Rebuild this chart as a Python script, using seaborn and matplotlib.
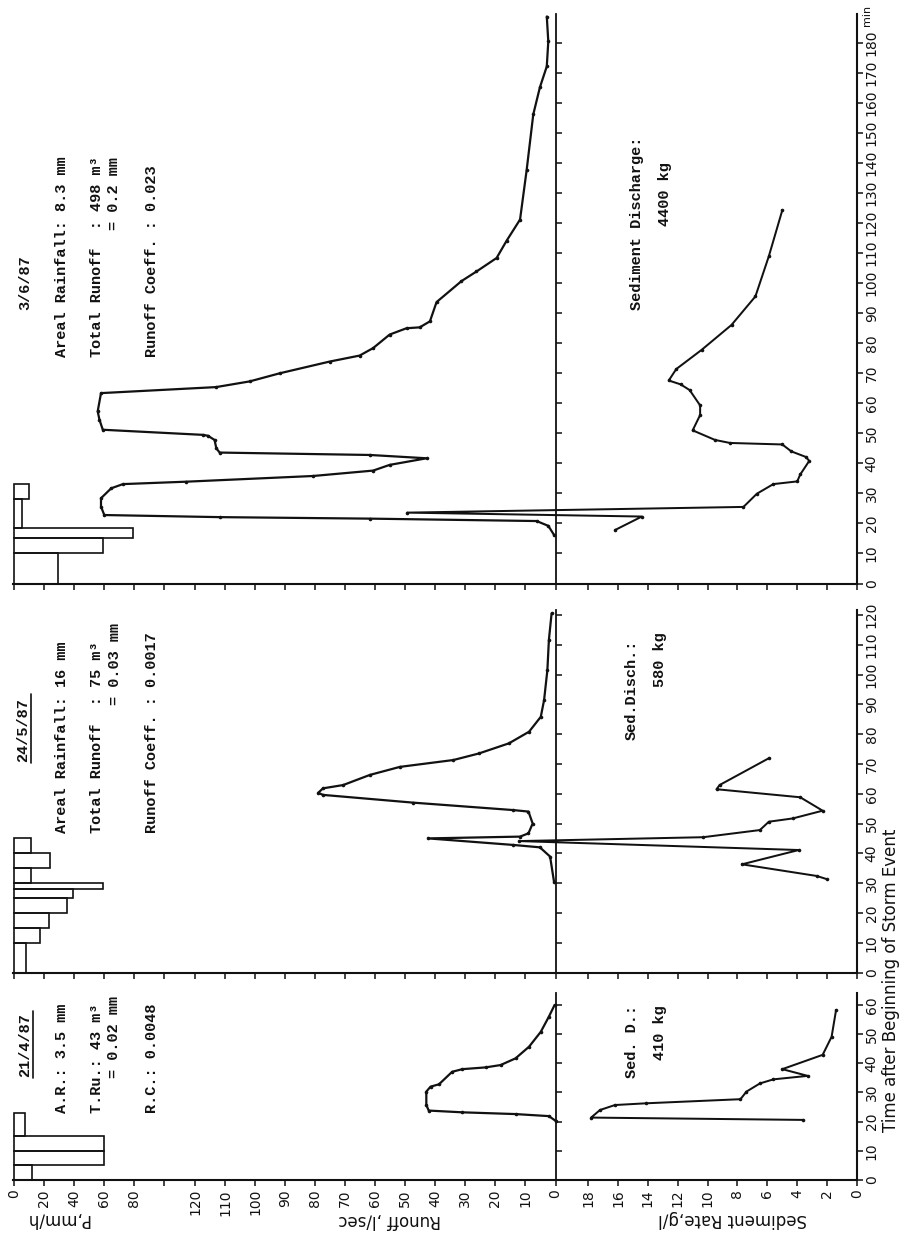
import matplotlib
matplotlib.use("Agg")
import matplotlib.pyplot as plt
from matplotlib.lines import Line2D
import seaborn as sns

# ---------------- data ----------------
# Event 1: 21/4/87
rain_edges_1 = [0, 5, 10, 15, 23]
rain_vals_1 = [12, 60, 60, 7]
runoff_t_1 = [20.3, 21.9, 22.6, 23.2, 23.8, 25.7, 30.3, 32.0, 32.8, 37.1, 38.0, 38.6,
              39.4, 41.7, 45.7, 50.8, 56.0, 60.0]
runoff_q_1 = [0.0, 2.2, 13.3, 31.0, 42.2, 43.0, 43.0, 41.6, 38.8, 34.4, 31.0, 23.3,
              18.3, 13.3, 8.8, 4.9, 2.2, 0.3]
sed_t_1 = [20.6, 21.4, 24.0, 25.7, 26.3, 27.7, 30.3, 33.1, 34.5, 35.7, 38.0, 42.9, 49.1, 58.3]
sed_c_1 = [3.6, 17.8, 17.2, 16.2, 14.1, 7.8, 7.4, 6.5, 5.6, 3.3, 5.0, 2.3, 1.7, 1.4]

# Event 2: 24/5/87
rain_edges_2 = [0, 10, 15, 20, 25, 28, 30, 35, 40, 45]
rain_vals_2 = [8, 17.5, 23, 35.5, 39.5, 59, 11, 24, 11]
runoff_t_2 = [30.5, 38.9, 42.0, 42.8, 45.0, 45.6, 46.7, 50.0, 54.0, 54.5, 57.0, 59.6,
              60.3, 61.8, 62.9, 66.3, 69.0, 71.3, 73.5, 76.9, 80.8, 85.8, 91.4, 101.5,
              111.6, 120.5]
runoff_q_2 = [0.5, 1.8, 5.2, 14.0, 42.4, 11.8, 9.0, 7.6, 9.0, 14.0, 47.4, 77.4,
              79.0, 77.4, 70.7, 61.8, 51.8, 34.0, 25.5, 15.5, 8.8, 4.9, 3.8, 2.7,
              2.2, 1.3]
sed_t_2 = [31.3, 32.4, 36.3, 41.1, 44.1, 45.4, 47.8, 50.6, 51.7, 54.3, 58.8, 61.5, 62.9, 71.9]
sed_c_2 = [2.0, 2.7, 7.7, 3.9, 22.6, 10.3, 6.5, 5.9, 4.3, 2.3, 3.8, 9.4, 9.2, 5.9]

# Event 3: 3/6/87
rain_edges_3 = [0, 10, 15, 18.5, 28, 33]
rain_vals_3 = [29, 59, 79, 5, 10]
runoff_t_3 = [16.2, 19.2, 20.8, 21.6, 22.1, 22.8, 25.6, 28.4, 31.7, 33.1, 33.9, 35.8,
              37.6, 39.5, 41.7, 42.8, 43.6, 45.0, 47.8, 49.2, 49.5, 51.2, 54.5, 57.3,
              63.4, 65.4, 67.3, 70.0, 73.9, 75.9, 78.4, 82.9, 85.0, 85.3, 87.3, 93.7,
              100.7, 103.9, 108.4, 114.1, 121.2, 137.7, 156.2, 165.2, 172.2, 180.5, 188.8]
runoff_q_3 = [0.5, 2.4, 6.3, 61.8, 111.8, 150.2, 151.3, 151.3, 147.9, 144.0, 123.0, 80.7,
              60.7, 55.2, 42.9, 61.8, 111.8, 112.9, 113.5, 115.7, 117.4, 150.7, 151.8, 152.4,
              151.3, 113.0, 101.8, 91.8, 75.2, 65.2, 60.7, 55.2, 49.6, 45.2, 41.8, 39.6,
              31.3, 26.3, 19.6, 16.3, 11.8, 9.6, 7.4, 5.2, 2.9, 2.4, 2.9]
sed_t_3 = [17.8, 22.3, 23.6, 25.5, 29.9, 33.1, 34.0, 36.3, 40.8, 42.1, 44.0, 46.3, 46.8,
           47.8, 51.0, 56.1, 59.3, 64.4, 66.3, 67.6, 71.4, 77.8, 86.1, 95.6, 109.0, 124.3]
sed_c_3 = [16.2, 14.4, 30.1, 7.6, 6.7, 5.6, 4.0, 3.8, 3.2, 3.4, 4.4, 5.0, 8.5,
           9.5, 11.0, 10.5, 10.5, 11.2, 11.8, 12.6, 12.1, 10.4, 8.4, 6.8, 5.9, 5.0]

time_ticks_1 = [0, 10, 20, 30, 40, 50, 60]
time_ticks_2 = [0, 10, 20, 30, 40, 50, 60, 70, 80, 90, 100, 110, 120]
time_ticks_3 = [0, 10, 20, 30, 40, 50, 60, 70, 80, 90, 100, 110, 120, 130, 140, 150,
                160, 170, 180]
rain_ticks = [0, 20, 40, 60, 80, 100]
rain_ticklabels = ["0", "20", "40", "60", "80", ""]
runoff_ticks = [0, 10, 20, 30, 40, 50, 60, 70, 80, 90, 100, 110, 120]
sed_ticks = [0, 2, 4, 6, 8, 10, 12, 14, 16, 18]

info_1 = ["A.R.: 3.5 mm", "T.Ru.: 43 m³", "= 0.02 mm", "R.C.: 0.0048"]
info_2 = ["Areal Rainfall: 16 mm", "Total Runoff  : 75 m³", "= 0.03 mm",
          "Runoff Coeff. : 0.0017"]
info_3 = ["Areal Rainfall: 8.3 mm", "Total Runoff  : 498 m³", "= 0.2 mm",
          "Runoff Coeff. : 0.023"]
sed_info_1 = ["Sed. D.:", "410 kg"]
sed_info_2 = ["Sed.Disch.:", "580 kg"]
sed_info_3 = ["Sediment Discharge:", "4400 kg"]
dates = ["21/4/87", "24/5/87", "3/6/87"]

# ---------------- style ----------------
sns.set_style("ticks")
plt.rcParams["font.family"] = ["DejaVu Sans"]
MONO = ["Liberation Mono", "DejaVu Sans Mono"]
INK = "#111111"

W, H = 906, 1235
fig = plt.figure(figsize=(W / 100, H / 100), dpi=100)
fig.patch.set_facecolor("white")

X0, X1 = 13, 857            # horizontal extent of panels (px)
RAIN0, RAIN_PX = 14, 1.5    # rain scale: px of 0, px per mm/h
RUN0, RUN_PX = 555.5, 3.004 # runoff scale
SED0, SED_PX = 857, 14.94   # sediment scale


def fx(x):
    return x / W


def fy(y):
    return 1 - y / H


def ftext(x, y, s, **kw):
    fig.text(fx(x), fy(y), s, **kw)


panels = [
    dict(base=1180, ppm=2.917, tmax=64, edges=rain_edges_1, rain=rain_vals_1,
         qt=runoff_t_1, q=runoff_q_1, st=sed_t_1, s=sed_c_1, ticks=time_ticks_1,
         labels=True),
    dict(base=972.5, ppm=2.98, tmax=121.5, edges=rain_edges_2, rain=rain_vals_2,
         qt=runoff_t_2, q=runoff_q_2, st=sed_t_2, s=sed_c_2, ticks=time_ticks_2,
         labels=False),
    dict(base=583.5, ppm=3.003, tmax=189.5, edges=rain_edges_3, rain=rain_vals_3,
         qt=runoff_t_3, q=runoff_q_3, st=sed_t_3, s=sed_c_3, ticks=time_ticks_3,
         labels=False),
]

LW = 1.6
for p in panels:
    rect = [fx(X0), fy(p["base"]), (X1 - X0) / W, p["tmax"] * p["ppm"] / H]
    ax_r = fig.add_axes(rect, facecolor="none")
    ax_q = fig.add_axes(rect, facecolor="none")
    ax_s = fig.add_axes(rect, facecolor="none")
    for a in (ax_r, ax_q, ax_s):
        a.set_ylim(0, p["tmax"])
        for sp in a.spines.values():
            sp.set_visible(False)
        a.tick_params(direction="out", length=4.5, width=1.1, color=INK,
                      labelsize=10, labelcolor=INK)
    ax_r.set_xlim((X0 - RAIN0) / RAIN_PX, (X1 - RAIN0) / RAIN_PX)
    ax_q.set_xlim((RUN0 - X0) / RUN_PX, (RUN0 - X1) / RUN_PX)
    ax_s.set_xlim((SED0 - X0) / SED_PX, 0)

    # rainfall hyetograph (bars hanging from the rain axis)
    e = p["edges"]
    widths = [e[i + 1] - e[i] for i in range(len(p["rain"]))]
    ax_r.barh(e[:-1], p["rain"], height=widths, left=0, align="edge",
              facecolor="none", edgecolor=INK, linewidth=1.2)
    ax_r.set_yticks([])
    ax_r.set_xticks(rain_ticks)
    ax_r.set_xticklabels(rain_ticklabels if p["labels"] else [""] * len(rain_ticks))

    # runoff hydrograph
    sns.lineplot(x=p["q"], y=p["qt"], sort=False, estimator=None, ax=ax_q,
                 color=INK, linewidth=LW, marker="o", markersize=2.6,
                 markeredgewidth=0)
    ax_q.spines["bottom"].set_visible(True)
    ax_q.spines["bottom"].set_linewidth(1.5)
    ax_q.spines["bottom"].set_color(INK)
    ax_q.spines["right"].set_visible(True)
    ax_q.spines["right"].set_position(("data", 0))
    ax_q.spines["right"].set_linewidth(1.3)
    ax_q.spines["right"].set_color(INK)
    ax_q.yaxis.set_ticks_position("right")
    ax_q.set_yticks(p["ticks"][1:])
    ax_q.tick_params(axis="y", labelright=False, labelleft=False)
    ax_q.set_xticks(runoff_ticks)
    ax_q.set_xticklabels([str(v) for v in runoff_ticks] if p["labels"]
                         else [""] * len(runoff_ticks))

    # sediment concentration
    sns.lineplot(x=p["s"], y=p["st"], sort=False, estimator=None, ax=ax_s,
                 color=INK, linewidth=LW * 0.9, marker="o", markersize=2.6,
                 markeredgewidth=0)
    ax_s.spines["right"].set_visible(True)
    ax_s.spines["right"].set_linewidth(1.5)
    ax_s.spines["right"].set_color(INK)
    ax_s.yaxis.set_ticks_position("right")
    ax_s.set_yticks(p["ticks"])
    ax_s.set_yticklabels([str(v) for v in p["ticks"]])
    ax_s.tick_params(axis="y", labelright=True, labelleft=False, labelrotation=90,
                     length=4, pad=1.5)
    for lbl in ax_s.get_yticklabels():
        lbl.set_va("center")
    ax_s.set_xticks(sed_ticks)
    ax_s.set_xticklabels([str(v) for v in sed_ticks] if p["labels"]
                         else [""] * len(sed_ticks))
    for a in (ax_r, ax_q, ax_s):
        a.tick_params(axis="x", labelrotation=90, pad=2)
        a.set_xlabel("")
        a.set_ylabel("")
        if a.get_legend() is not None:
            a.get_legend().remove()

# ---------------- annotations ----------------
mono_kw = dict(rotation=90, rotation_mode="anchor", ha="left", va="center",
               family=MONO, weight="bold", size=11, color=INK)

# event 1 (bottom)
ftext(25, 1077, dates[0], **mono_kw)
ftext(62, 1113, info_1[0], **mono_kw)
ftext(97, 1113, info_1[1], **mono_kw)
ftext(114, 1078, info_1[2], **mono_kw)
ftext(152, 1113, info_1[3], **mono_kw)
ftext(632, 1078, sed_info_1[0], **mono_kw)
ftext(660, 1060, sed_info_1[1], **mono_kw)

# event 2 (middle)
ftext(23, 762, dates[1], **mono_kw)
ftext(62, 833, info_2[0], **mono_kw)
ftext(97, 833, info_2[1], **mono_kw)
ftext(115, 705, info_2[2], **mono_kw)
ftext(152, 833, info_2[3], **mono_kw)
ftext(632, 740, sed_info_2[0], **mono_kw)
ftext(660, 687, sed_info_2[1], **mono_kw)

# event 3 (top)
ftext(25, 310, dates[2], **mono_kw)
ftext(62, 357, info_3[0], **mono_kw)
ftext(97, 357, info_3[1], **mono_kw)
ftext(114, 230, info_3[2], **mono_kw)
ftext(152, 357, info_3[3], **mono_kw)
ftext(637, 310, sed_info_3[0], **mono_kw)
ftext(665, 226, sed_info_3[1], **mono_kw)

# underlines of the first two dates
for xu, y0, y1 in [(33, 1078, 1011), (31, 763, 694)]:
    fig.add_artist(Line2D([fx(xu), fx(xu)], [fy(y0), fy(y1)],
                          transform=fig.transFigure, color=INK, lw=1.2))

# axis titles
ftext(57, 1219, "P,mm/h", rotation=180, ha="center", va="center", size=12, color=INK)
ftext(390, 1220, "Runoff ,l/sec", rotation=180, ha="center", va="center", size=12,
      color=INK)
ftext(733, 1219, "Sediment Rate,g/l", rotation=180, ha="center", va="center", size=12,
      color=INK)
ftext(891, 980, "Time after Beginning of Storm Event", rotation=90, ha="center",
      va="center", size=12, color=INK)
ftext(867, 15, "min", rotation=90, ha="center", va="center", size=8, color=INK)

fig.savefig("out.png", dpi=100, facecolor="white")
